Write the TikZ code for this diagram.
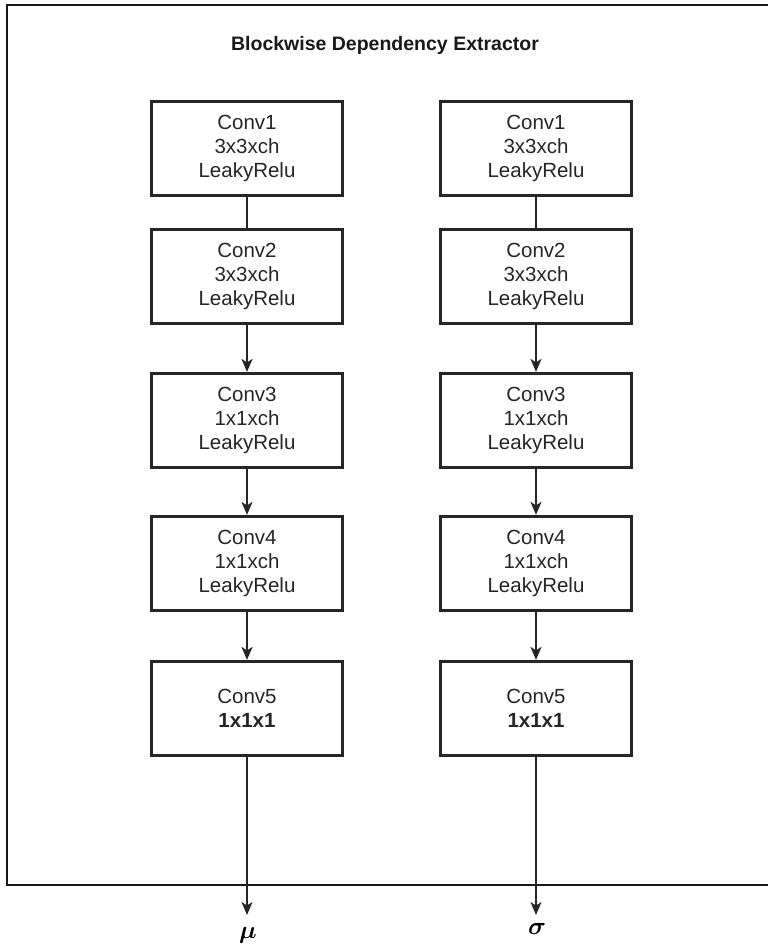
\documentclass[tikz,border=0pt]{standalone}
\usepackage{fontspec}
\setmainfont{Liberation Sans}
\usepackage{bm}
\usetikzlibrary{arrows.meta}

\begin{document}
\begin{tikzpicture}[x=1pt,y=-1pt,
  layer/.style={draw=black!85, line width=3.2pt, fill=white,
    minimum width=191pt, minimum height=94pt, inner sep=0pt,
    align=center, font=\fontsize{20.5}{24}\selectfont, text=black!85},
  link/.style={line width=1.5pt, draw=black!85},
  flow/.style={link, -{Stealth[length=13pt,width=11pt,inset=3.5pt]}},
  outlabel/.style={font=\fontsize{28}{30}\selectfont}]

  \useasboundingbox (0,0) rectangle (768,951);

  % enclosing frame (open on the right side)
  \draw[line width=2.2pt, black!90] (768,5) -- (7,5) -- (7,885) -- (768,885);

  \node[font=\bfseries\fontsize{19.5}{24}\selectfont, text=black!90] (title)
    at (385,45) {Blockwise Dependency Extractor};

  % left branch
  \node[layer] (a1) at (247,148.5) {Conv1\\3x3xch\\LeakyRelu};
  \node[layer] (a2) at (247,276.5) {Conv2\\3x3xch\\LeakyRelu};
  \node[layer] (a3) at (247,420.5) {Conv3\\1x1xch\\LeakyRelu};
  \node[layer] (a4) at (247,563.5) {Conv4\\1x1xch\\LeakyRelu};
  \node[layer] (a5) at (247,708.5) {Conv5\\\textbf{1x1x1}};

  % right branch
  \node[layer] (b1) at (536,148.5) {Conv1\\3x3xch\\LeakyRelu};
  \node[layer] (b2) at (536,276.5) {Conv2\\3x3xch\\LeakyRelu};
  \node[layer] (b3) at (536,420.5) {Conv3\\1x1xch\\LeakyRelu};
  \node[layer] (b4) at (536,563.5) {Conv4\\1x1xch\\LeakyRelu};
  \node[layer] (b5) at (536,708.5) {Conv5\\\textbf{1x1x1}};

  % output ends
  \coordinate (aout) at (247,915);
  \coordinate (bout) at (536,915);
  \node[outlabel] (mu) at (248,935) {$\bm{\mu}$};
  \node[outlabel] (sigma) at (537,929) {$\bm{\sigma}$};

  % connections
  \draw[link] (a1) -- (a2);
  \draw[flow] (a2) -- (a3);
  \draw[flow] (a3) -- (a4);
  \draw[flow] (a4) -- (a5);
  \draw[flow] (a5) -- (aout);

  \draw[link] (b1) -- (b2);
  \draw[flow] (b2) -- (b3);
  \draw[flow] (b3) -- (b4);
  \draw[flow] (b4) -- (b5);
  \draw[flow] (b5) -- (bout);
\end{tikzpicture}
\end{document}
